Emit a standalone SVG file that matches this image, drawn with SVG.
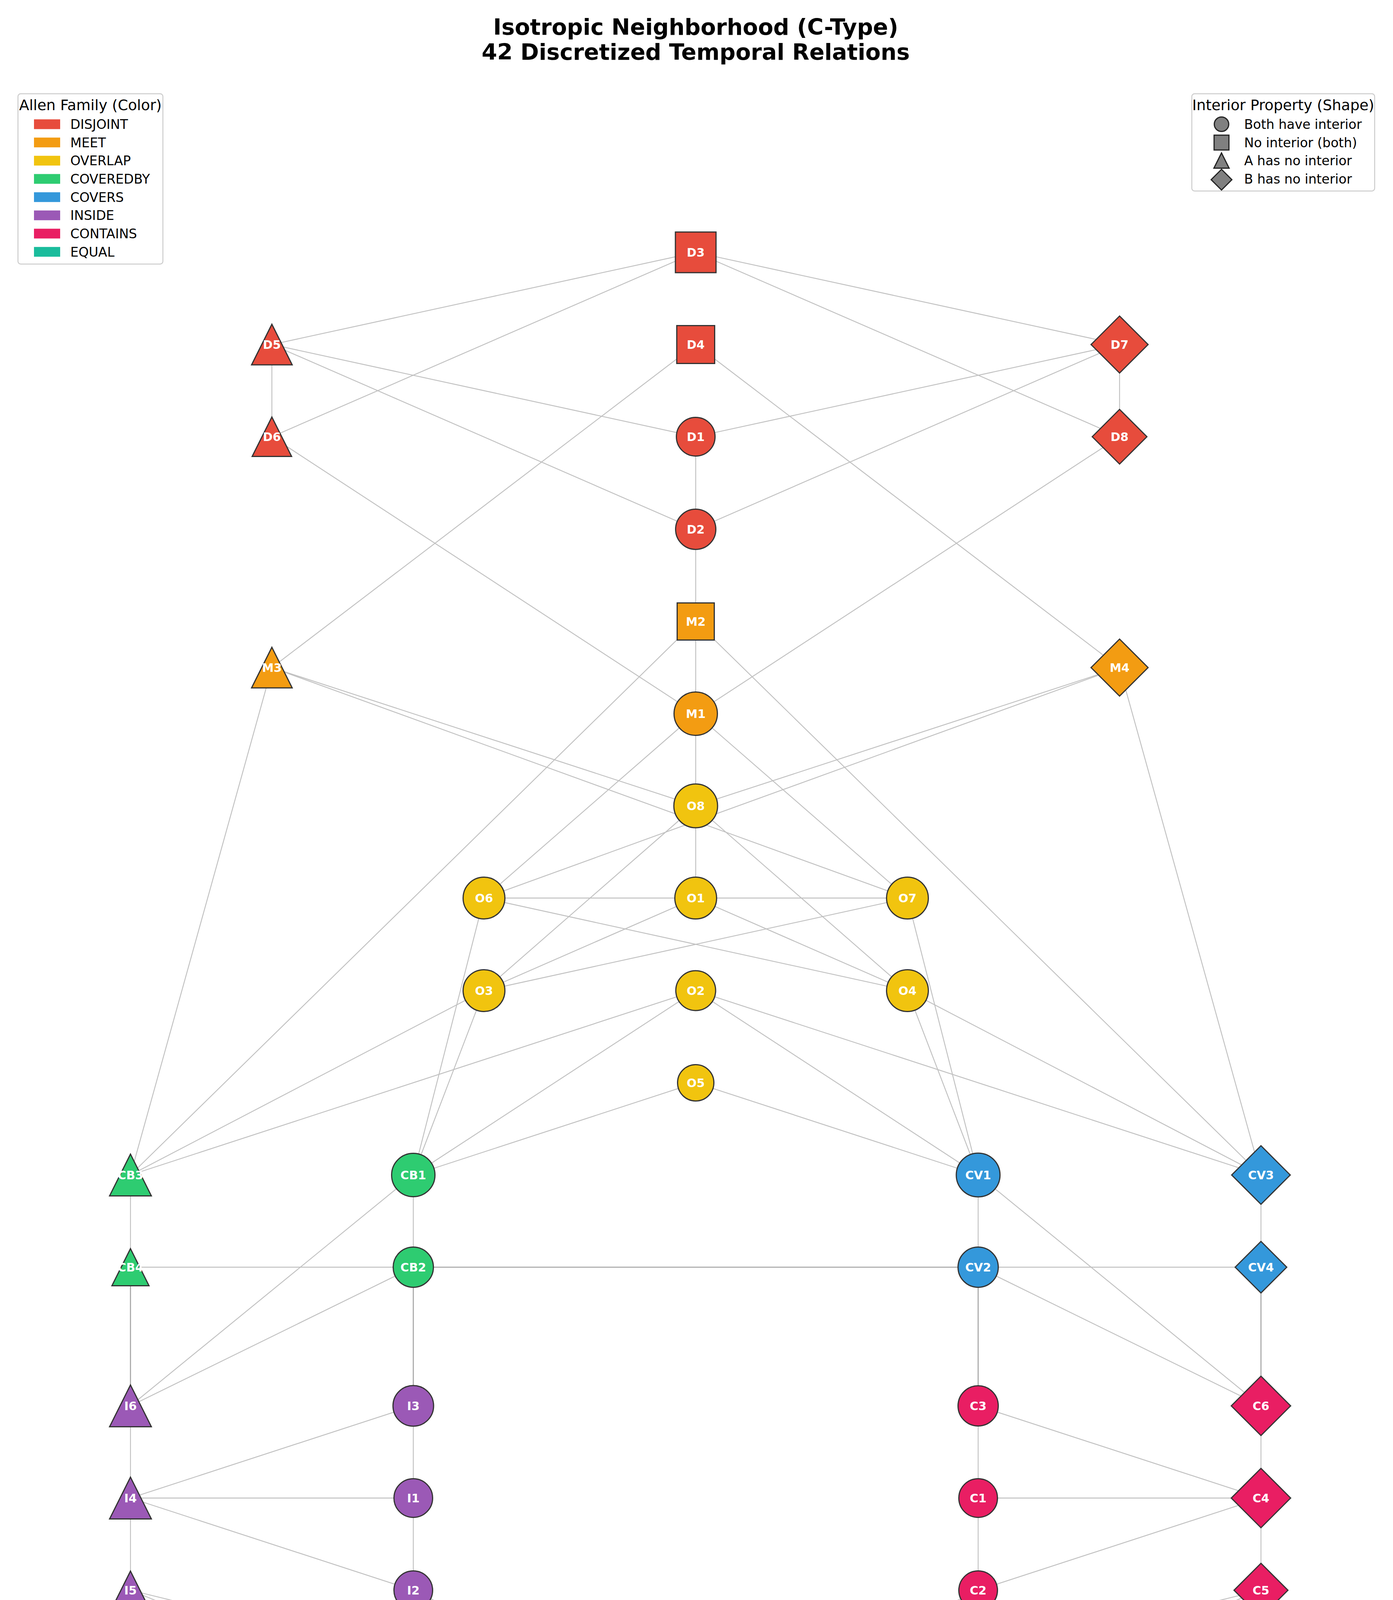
<svg xmlns="http://www.w3.org/2000/svg" width="3566" height="4765" viewBox="0 0 3566 4765">
<style>
.bg{fill:#ffffff}
.e{stroke:#c0c0c0;stroke-width:2.3;fill:none}
.e.dk{stroke:#a2a2a2;stroke-width:2.6}
.n{stroke:#333333;stroke-width:3}
.lbl{font-family:'DejaVu Sans','Liberation Sans',sans-serif;font-weight:bold;font-size:30px;fill:#ffffff;text-anchor:middle}
.title{font-family:'DejaVu Sans','Liberation Sans',sans-serif;font-weight:bold;font-size:57px;fill:#000000;text-anchor:middle}
.lgbox{fill:#ffffff;fill-opacity:0.9;stroke:#cccccc;stroke-width:2.5}
.lgt{font-family:'DejaVu Sans','Liberation Sans',sans-serif;font-size:37.5px;fill:#000000;text-anchor:middle}
.lgi{font-family:'DejaVu Sans','Liberation Sans',sans-serif;font-size:33.3px;fill:#000000}
.lgm{fill:#808080;stroke:#222222;stroke-width:3}
.dis{fill:#e74c3c}.mee{fill:#f39c12}.ove{fill:#f1c40f}.cby{fill:#2ecc71}
.cov{fill:#3498db}.ins{fill:#9b59b6}.con{fill:#e91e63}.equ{fill:#1abc9c}
</style>
<rect class="bg" x="0" y="0" width="3566" height="4765"/>
<g id="title">
<text class="title" x="1781" y="89">Isotropic Neighborhood (C-Type)</text>
<text class="title" x="1781" y="153">42 Discretized Temporal Relations</text>
</g>
<g id="connectors">
<line class="e" x1="1781" y1="646" x2="696" y2="882"/>
<line class="e" x1="1781" y1="646" x2="696" y2="1118"/>
<line class="e" x1="1781" y1="646" x2="2866" y2="882"/>
<line class="e" x1="1781" y1="646" x2="2866" y2="1118"/>
<line class="e" x1="696" y1="882" x2="696" y2="1118"/>
<line class="e" x1="696" y1="882" x2="1781" y2="1118"/>
<line class="e" x1="696" y1="882" x2="1781" y2="1355"/>
<line class="e" x1="2866" y1="882" x2="2866" y2="1118"/>
<line class="e" x1="2866" y1="882" x2="1781" y2="1118"/>
<line class="e" x1="2866" y1="882" x2="1781" y2="1355"/>
<line class="e" x1="1781" y1="1118" x2="1781" y2="1355"/>
<line class="e" x1="1781" y1="1355" x2="1781" y2="1591"/>
<line class="e" x1="1781" y1="882" x2="696" y2="1709"/>
<line class="e" x1="1781" y1="882" x2="2866" y2="1709"/>
<line class="e" x1="696" y1="1118" x2="1781" y2="1827"/>
<line class="e" x1="2866" y1="1118" x2="1781" y2="1827"/>
<line class="e" x1="1781" y1="1591" x2="1781" y2="1827"/>
<line class="e" x1="1781" y1="1591" x2="334" y2="3008"/>
<line class="e" x1="1781" y1="1591" x2="3228" y2="3008"/>
<line class="e" x1="696" y1="1709" x2="1781" y2="2063"/>
<line class="e" x1="696" y1="1709" x2="2323" y2="2299"/>
<line class="e" x1="696" y1="1709" x2="334" y2="3008"/>
<line class="e" x1="2866" y1="1709" x2="1781" y2="2063"/>
<line class="e" x1="2866" y1="1709" x2="1239" y2="2299"/>
<line class="e" x1="2866" y1="1709" x2="3228" y2="3008"/>
<line class="e" x1="1781" y1="1827" x2="1781" y2="2063"/>
<line class="e" x1="1781" y1="1827" x2="1239" y2="2299"/>
<line class="e" x1="1781" y1="1827" x2="2323" y2="2299"/>
<line class="e" x1="1781" y1="2063" x2="1781" y2="2299"/>
<line class="e" x1="1781" y1="2063" x2="1239" y2="2536"/>
<line class="e" x1="1781" y1="2063" x2="2323" y2="2536"/>
<line class="e" x1="1239" y1="2299" x2="1781" y2="2299"/>
<line class="e" x1="1781" y1="2299" x2="2323" y2="2299"/>
<line class="e" x1="1239" y1="2299" x2="2323" y2="2536"/>
<line class="e" x1="2323" y1="2299" x2="1239" y2="2536"/>
<line class="e" x1="1781" y1="2299" x2="1239" y2="2536"/>
<line class="e" x1="1781" y1="2299" x2="2323" y2="2536"/>
<line class="e" x1="1239" y1="2299" x2="1058" y2="3008"/>
<line class="e" x1="1239" y1="2536" x2="1058" y2="3008"/>
<line class="e" x1="1239" y1="2536" x2="334" y2="3008"/>
<line class="e" x1="1781" y1="2536" x2="334" y2="3008"/>
<line class="e" x1="1781" y1="2536" x2="1058" y2="3008"/>
<line class="e" x1="1781" y1="2772" x2="1058" y2="3008"/>
<line class="e" x1="1781" y1="2772" x2="2504" y2="3008"/>
<line class="e" x1="1781" y1="2536" x2="2504" y2="3008"/>
<line class="e" x1="1781" y1="2536" x2="3228" y2="3008"/>
<line class="e" x1="2323" y1="2536" x2="2504" y2="3008"/>
<line class="e" x1="2323" y1="2299" x2="2504" y2="3008"/>
<line class="e" x1="2323" y1="2536" x2="3228" y2="3008"/>
<line class="e" x1="334" y1="3008" x2="334" y2="3244"/>
<line class="e" x1="334" y1="3244" x2="1058" y2="3244"/>
<line class="e dk" x1="1058" y1="3244" x2="2504" y2="3244"/>
<line class="e" x1="2504" y1="3244" x2="3228" y2="3244"/>
<line class="e" x1="1058" y1="3008" x2="1058" y2="3244"/>
<line class="e" x1="1058" y1="3008" x2="334" y2="3599"/>
<line class="e" x1="1058" y1="3244" x2="334" y2="3599"/>
<line class="e dk" x1="1058" y1="3244" x2="1058" y2="3599"/>
<line class="e dk" x1="334" y1="3244" x2="334" y2="3599"/>
<line class="e" x1="2504" y1="3008" x2="2504" y2="3244"/>
<line class="e" x1="2504" y1="3008" x2="3228" y2="3599"/>
<line class="e" x1="2504" y1="3244" x2="3228" y2="3599"/>
<line class="e dk" x1="2504" y1="3244" x2="2504" y2="3599"/>
<line class="e" x1="3228" y1="3008" x2="3228" y2="3244"/>
<line class="e dk" x1="3228" y1="3244" x2="3228" y2="3599"/>
<line class="e" x1="334" y1="3599" x2="334" y2="3835"/>
<line class="e" x1="334" y1="3835" x2="1058" y2="3599"/>
<line class="e" x1="334" y1="3835" x2="1058" y2="3835"/>
<line class="e" x1="334" y1="3835" x2="1058" y2="4071"/>
<line class="e" x1="334" y1="3835" x2="334" y2="4071"/>
<line class="e" x1="1058" y1="3599" x2="1058" y2="3835"/>
<line class="e" x1="1058" y1="3835" x2="1058" y2="4071"/>
<line class="e" x1="1058" y1="4071" x2="1781" y2="4425"/>
<line class="e" x1="334" y1="4071" x2="1781" y2="4425"/>
<line class="e" x1="334" y1="4071" x2="1781" y2="4661"/>
<line class="e" x1="3228" y1="3599" x2="3228" y2="3835"/>
<line class="e" x1="2504" y1="3599" x2="3228" y2="3835"/>
<line class="e" x1="2504" y1="3835" x2="3228" y2="3835"/>
<line class="e" x1="3228" y1="3835" x2="2504" y2="4071"/>
<line class="e" x1="2504" y1="3599" x2="2504" y2="3835"/>
<line class="e" x1="2504" y1="3835" x2="2504" y2="4071"/>
<line class="e" x1="3228" y1="3835" x2="3228" y2="4071"/>
<line class="e" x1="2504" y1="4071" x2="1781" y2="4425"/>
<line class="e" x1="3228" y1="4071" x2="1781" y2="4425"/>
<line class="e" x1="3228" y1="4071" x2="1781" y2="4661"/>
</g>
<g id="nodes">
<g id="D3"><rect class="n dis" x="1729" y="594" width="104" height="104"/><text class="lbl" x="1781" y="657">D3</text></g>
<g id="D5"><polygon class="n dis" points="696,830 644,934 748,934"/><text class="lbl" x="696" y="893">D5</text></g>
<g id="D4"><rect class="n dis" x="1732.5" y="833.5" width="97" height="97"/><text class="lbl" x="1781" y="893">D4</text></g>
<g id="D7"><polygon class="n dis" points="2866,809 2939,882 2866,955 2793,882"/><text class="lbl" x="2866" y="893">D7</text></g>
<g id="D6"><polygon class="n dis" points="696,1067.5 645.5,1168.5 746.5,1168.5"/><text class="lbl" x="696" y="1129">D6</text></g>
<g id="D1"><circle class="n dis" cx="1781" cy="1118" r="49.5"/><text class="lbl" x="1781" y="1129">D1</text></g>
<g id="D8"><polygon class="n dis" points="2866,1048 2936,1118 2866,1188 2796,1118"/><text class="lbl" x="2866" y="1129">D8</text></g>
<g id="D2"><circle class="n dis" cx="1781" cy="1355" r="51.5"/><text class="lbl" x="1781" y="1366">D2</text></g>
<g id="M2"><rect class="n mee" x="1733.5" y="1543.5" width="95" height="95"/><text class="lbl" x="1781" y="1602">M2</text></g>
<g id="M3"><polygon class="n mee" points="696,1657 644,1761 748,1761"/><text class="lbl" x="696" y="1720">M3</text></g>
<g id="M4"><polygon class="n mee" points="2866,1636 2939,1709 2866,1782 2793,1709"/><text class="lbl" x="2866" y="1720">M4</text></g>
<g id="M1"><circle class="n mee" cx="1781" cy="1827" r="55.5"/><text class="lbl" x="1781" y="1838">M1</text></g>
<g id="O8"><circle class="n ove" cx="1781" cy="2063" r="56"/><text class="lbl" x="1781" y="2074">O8</text></g>
<g id="O6"><circle class="n ove" cx="1239" cy="2299" r="53.5"/><text class="lbl" x="1239" y="2310">O6</text></g>
<g id="O1"><circle class="n ove" cx="1781" cy="2299" r="53.5"/><text class="lbl" x="1781" y="2310">O1</text></g>
<g id="O7"><circle class="n ove" cx="2323" cy="2299" r="53.5"/><text class="lbl" x="2323" y="2310">O7</text></g>
<g id="O3"><circle class="n ove" cx="1239" cy="2536" r="53.5"/><text class="lbl" x="1239" y="2547">O3</text></g>
<g id="O2"><circle class="n ove" cx="1781" cy="2536" r="51"/><text class="lbl" x="1781" y="2547">O2</text></g>
<g id="O4"><circle class="n ove" cx="2323" cy="2536" r="53.5"/><text class="lbl" x="2323" y="2547">O4</text></g>
<g id="O5"><circle class="n ove" cx="1781" cy="2772" r="46.5"/><text class="lbl" x="1781" y="2783">O5</text></g>
<g id="CB3"><polygon class="n cby" points="334,2954.5 280.5,3061.5 387.5,3061.5"/><text class="lbl" x="334" y="3019">CB3</text></g>
<g id="CB1"><circle class="n cby" cx="1058" cy="3008" r="55.5"/><text class="lbl" x="1058" y="3019">CB1</text></g>
<g id="CV1"><circle class="n cov" cx="2504" cy="3008" r="56"/><text class="lbl" x="2504" y="3019">CV1</text></g>
<g id="CV3"><polygon class="n cov" points="3228,2933 3303,3008 3228,3083 3153,3008"/><text class="lbl" x="3228" y="3019">CV3</text></g>
<g id="CB4"><polygon class="n cby" points="334,3196.5 286.5,3291.5 381.5,3291.5"/><text class="lbl" x="334" y="3255">CB4</text></g>
<g id="CB2"><circle class="n cby" cx="1058" cy="3244" r="51.5"/><text class="lbl" x="1058" y="3255">CB2</text></g>
<g id="CV2"><circle class="n cov" cx="2504" cy="3244" r="51.5"/><text class="lbl" x="2504" y="3255">CV2</text></g>
<g id="CV4"><polygon class="n cov" points="3228,3178 3294,3244 3228,3310 3162,3244"/><text class="lbl" x="3228" y="3255">CV4</text></g>
<g id="I6"><polygon class="n ins" points="334,3545.5 280.5,3652.5 387.5,3652.5"/><text class="lbl" x="334" y="3610">I6</text></g>
<g id="I3"><circle class="n ins" cx="1058" cy="3599" r="52"/><text class="lbl" x="1058" y="3610">I3</text></g>
<g id="C3"><circle class="n con" cx="2504" cy="3599" r="51.5"/><text class="lbl" x="2504" y="3610">C3</text></g>
<g id="C6"><polygon class="n con" points="3228,3523 3304,3599 3228,3675 3152,3599"/><text class="lbl" x="3228" y="3610">C6</text></g>
<g id="I4"><polygon class="n ins" points="334,3781.5 280.5,3888.5 387.5,3888.5"/><text class="lbl" x="334" y="3846">I4</text></g>
<g id="I1"><circle class="n ins" cx="1058" cy="3835" r="49.5"/><text class="lbl" x="1058" y="3846">I1</text></g>
<g id="C1"><circle class="n con" cx="2504" cy="3835" r="49.5"/><text class="lbl" x="2504" y="3846">C1</text></g>
<g id="C4"><polygon class="n con" points="3228,3759 3304,3835 3228,3911 3152,3835"/><text class="lbl" x="3228" y="3846">C4</text></g>
<g id="I5"><polygon class="n ins" points="334,4022 285,4120 383,4120"/><text class="lbl" x="334" y="4082">I5</text></g>
<g id="I2"><circle class="n ins" cx="1058" cy="4071" r="49.5"/><text class="lbl" x="1058" y="4082">I2</text></g>
<g id="C2"><circle class="n con" cx="2504" cy="4071" r="49.5"/><text class="lbl" x="2504" y="4082">C2</text></g>
<g id="C5"><polygon class="n con" points="3228,4002 3297,4071 3228,4140 3159,4071"/><text class="lbl" x="3228" y="4082">C5</text></g>
<g id="E1"><circle class="n equ" cx="1781" cy="4425" r="51.5"/><text class="lbl" x="1781" y="4436">E1</text></g>
<g id="E2"><rect class="n equ" x="1733" y="4613" width="96" height="96"/><text class="lbl" x="1781" y="4672">E2</text></g>
</g>
<g id="legend-color">
<rect class="lgbox" x="46" y="240" width="371" height="436" rx="7"/>
<text class="lgt" x="231.5" y="282">Allen Family (Color)</text>
<rect class="dis" x="87" y="305.5" width="67" height="25"/><text class="lgi" x="180" y="330">DISJOINT</text>
<rect class="mee" x="87" y="352.2" width="67" height="25"/><text class="lgi" x="180" y="376.7">MEET</text>
<rect class="ove" x="87" y="398.8" width="67" height="25"/><text class="lgi" x="180" y="423.3">OVERLAP</text>
<rect class="cby" x="87" y="445.5" width="67" height="25"/><text class="lgi" x="180" y="470">COVEREDBY</text>
<rect class="cov" x="87" y="492.2" width="67" height="25"/><text class="lgi" x="180" y="516.7">COVERS</text>
<rect class="ins" x="87" y="538.8" width="67" height="25"/><text class="lgi" x="180" y="563.3">INSIDE</text>
<rect class="con" x="87" y="585.5" width="67" height="25"/><text class="lgi" x="180" y="610">CONTAINS</text>
<rect class="equ" x="87" y="632.2" width="67" height="25"/><text class="lgi" x="180" y="656.7">EQUAL</text>
</g>
<g id="legend-shape">
<rect class="lgbox" x="3051" y="240" width="468" height="249" rx="7"/>
<text class="lgt" x="3285" y="282">Interior Property (Shape)</text>
<circle class="lgm" cx="3127" cy="318" r="18.5"/><text class="lgi" x="3185" y="330">Both have interior</text>
<rect class="lgm" x="3108" y="346" width="38" height="38"/><text class="lgi" x="3185" y="376.7">No interior (both)</text>
<polygon class="lgm" points="3127,391.5 3107.5,430.5 3146.5,430.5"/><text class="lgi" x="3185" y="423.3">A has no interior</text>
<polygon class="lgm" points="3127,433.5 3153.5,460 3127,486.5 3100.5,460"/><text class="lgi" x="3185" y="470">B has no interior</text>
</g>
</svg>
